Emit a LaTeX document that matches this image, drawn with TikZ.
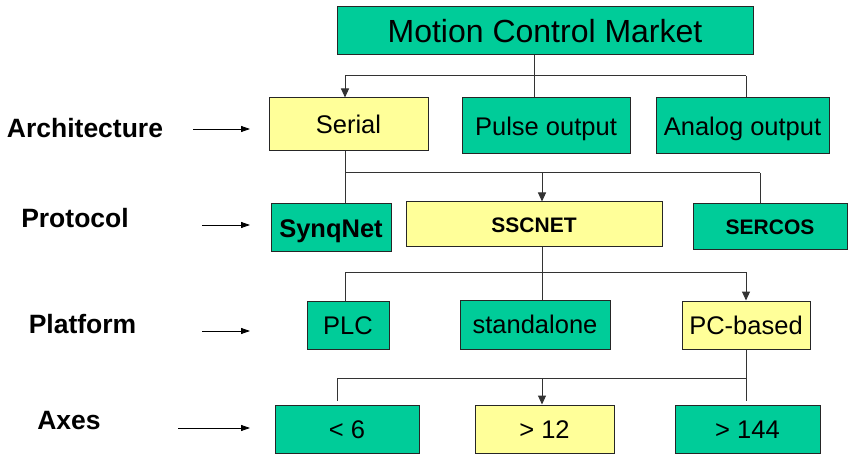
\documentclass[tikz,border=0pt]{standalone}
\usepackage{fontspec}
\setmainfont{Liberation Sans}
\usetikzlibrary{arrows.meta}
\definecolor{boxgreen}{HTML}{00CC99}
\definecolor{boxyellow}{HTML}{FFFF99}
\begin{document}
\begin{tikzpicture}[x=1pt,y=-1pt,
 box/.style={draw=black!85, line width=1pt, inner sep=0pt, text height=18.3pt, text depth=0pt, font=\fontsize{25.5}{25.5}\selectfont},
 gbox/.style={box, fill=boxgreen},
 ybox/.style={box, fill=boxyellow},
 smallbold/.style={font=\fontsize{21}{21}\selectfont\bfseries, text height=15.1pt},
 conn/.style={line width=1pt, draw=black!80},
 arr/.style={conn, -{Triangle[width=8pt,length=9pt]}},
 lbl/.style={font=\fontsize{26.5}{26.5}\selectfont\bfseries, inner sep=0pt, text height=19pt, text depth=0pt},
 larr/.style={line width=0.8pt, -{Triangle[width=6pt,length=9pt]}}]
\useasboundingbox (0,0) rectangle (848,454);

% level 0
\node[gbox, minimum width=416pt, minimum height=48pt, font=\fontsize{32}{32}\selectfont, text height=22.9pt] (top) at (545,31) {Motion Control Market};
% level 1
\node[ybox, minimum width=159pt, minimum height=53pt] (serial) at (348.5,124.5) {Serial};
\node[gbox, minimum width=168pt, minimum height=56pt] (pulse) at (546,126) {Pulse output};
\node[gbox, minimum width=173pt, minimum height=56pt] (analog) at (742.5,126) {Analog output};
% level 2
\node[gbox, minimum width=120pt, minimum height=48pt, font=\fontsize{25.5}{25.5}\selectfont\bfseries] (synq) at (331,228) {SynqNet};
\node[ybox, smallbold, minimum width=256pt, minimum height=45pt] (sscnet) at (534,224.5) {SSCNET};
\node[gbox, smallbold, minimum width=154pt, minimum height=46pt] (sercos) at (770,227) {SERCOS};
% level 3
\node[gbox, minimum width=82pt, minimum height=48pt] (plc) at (348,325) {PLC};
\node[gbox, minimum width=150pt, minimum height=49pt] (standalone) at (535,324.5) {standalone};
\node[ybox, minimum width=128pt, minimum height=48pt] (pcbased) at (746,325) {PC-based};
% level 4
\node[gbox, minimum width=144pt, minimum height=48pt] (ax1) at (347,429) {< 6};
\node[ybox, minimum width=139pt, minimum height=48pt] (ax2) at (544.5,429) {> 12};
\node[gbox, minimum width=145pt, minimum height=48pt] (ax3) at (747.5,429) {> 144};

% left labels
\node[lbl] (larch) at (85,128) {Architecture};
\node[lbl] (lprot) at (75,218) {Protocol};
\node[lbl] (lplat) at (82.5,324) {Platform};
\node[lbl] (laxes) at (69,420) {Axes};
\coordinate (a1s) at (193,129); \coordinate (a1e) at (250,129);
\coordinate (a2s) at (202,225); \coordinate (a2e) at (250,225);
\coordinate (a3s) at (202,331); \coordinate (a3e) at (250,331);
\coordinate (a4s) at (178,428); \coordinate (a4e) at (250,428);
\draw[larr] (a1s) -- (a1e);
\draw[larr] (a2s) -- (a2e);
\draw[larr] (a3s) -- (a3e);
\draw[larr] (a4s) -- (a4e);

% connectors level 0 -> 1
\coordinate (b1) at (534,76);
\coordinate (b1L) at (345,76);
\coordinate (b1R) at (746,76);
\draw[conn] (top.south -| b1) -- (pulse.north -| b1);
\draw[conn] (b1L) -- (b1R);
\draw[arr] (b1L) -- (b1L |- serial.north);
\draw[conn] (b1R) -- (b1R |- analog.north);

% connectors level 1 -> 2
\coordinate (b2L) at (345,173);
\coordinate (b2M) at (542,173);
\coordinate (b2R) at (760,173);
\draw[conn] (serial.south -| b2L) -- (synq.north -| b2L);
\draw[conn] (b2L) -- (b2R);
\draw[arr] (b2M) -- (b2M |- sscnet.north);
\draw[conn] (b2R) -- (b2R |- sercos.north);

% connectors level 2 -> 3
\coordinate (b3L) at (345,272);
\coordinate (b3M) at (542,272);
\coordinate (b3R) at (746,272);
\draw[conn] (sscnet.south -| b3M) -- (standalone.north -| b3M);
\draw[conn] (b3L) -- (b3R);
\draw[conn] (b3L) -- (b3L |- plc.north);
\draw[arr] (b3R) -- (b3R |- pcbased.north);

% connectors level 3 -> 4
\coordinate (b4L) at (337,378);
\coordinate (b4M) at (542,378);
\coordinate (b4R) at (746,378);
\draw[conn, shorten >=4pt] (pcbased.south) -- (pcbased.south |- ax3.north);
\draw[conn] (b4L) -- (b4R);
\draw[conn, shorten >=4pt] (b4L) -- (b4L |- ax1.north);
\draw[arr] (b4M) -- (b4M |- ax2.north);
\end{tikzpicture}
\end{document}
